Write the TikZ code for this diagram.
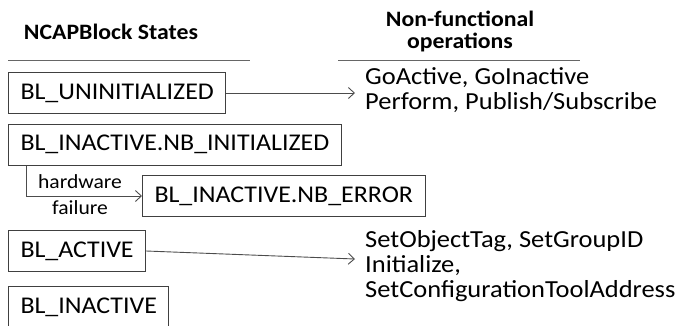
\documentclass[tikz,border=0pt]{standalone}
\usepackage{fontspec}
\setmainfont{Carlito}[FakeStretch=1.08]
\usetikzlibrary{arrows.meta}

\begin{document}
\begin{tikzpicture}
  [x=1pt,y=-1pt,
   every node/.style={font=\fontsize{24}{25}\selectfont},
   state/.style={draw=black!75,line width=1pt,anchor=west,minimum height=41pt,inner xsep=12pt,inner ysep=0pt},
   head/.style={font=\fontsize{22}{22}\selectfont\bfseries,align=center,inner sep=0pt},
   ops/.style={anchor=west,align=left,inner sep=0pt,font=\fontsize{24.5}{25}\selectfont},
   small/.style={font=\fontsize{20}{20}\selectfont,inner sep=0pt},
   link/.style={draw=black!70,line width=0.9pt,-{Straight Barb[length=6pt,width=11pt]}}]
  \useasboundingbox (0,0) rectangle (675,325);
  % headers
  \node[head] (hstates) at (111,32) {NCAPBlock States};
  \node[head] (hops) at (460,31) {Non-functional\\operations};
  \draw[black!60,line width=0.9pt] (8,60) -- (250,60);
  \draw[black!60,line width=0.9pt] (338,60) -- (580,60);
  % states
  \node[state] (uninit) at (8,93) {BL\_UNINITIALIZED};
  \node[state] (nbinit) at (8,144.5) {BL\_INACTIVE.NB\_INITIALIZED};
  \node[state] (nberror) at (142,196) {BL\_INACTIVE.NB\_ERROR};
  \node[state] (active) at (8,251) {BL\_ACTIVE};
  \node[state] (inactive) at (8,307) {BL\_INACTIVE};
  % operations
  \node[ops] (opsA) at (365,90.5) {GoActive, GoInactive\\Perform, Publish/Subscribe};
  \node[ops] (opsB) at (365,266) {SetObjectTag, SetGroupID\\Initialize,\\SetConfigurationToolAddress};
  \coordinate (tipA) at (355,93);
  \coordinate (tipB) at (355,259);
  \node[small] (hw) at (80,182) {hardware};
  \node[small] (fail) at (80,208) {failure};
  \draw[link] (uninit.east) -- (tipA);
  \draw[link] (active.east) -- (tipB);
  \draw[link] ([xshift=18pt]nbinit.south west) |- (nberror.west);
\end{tikzpicture}
\end{document}
